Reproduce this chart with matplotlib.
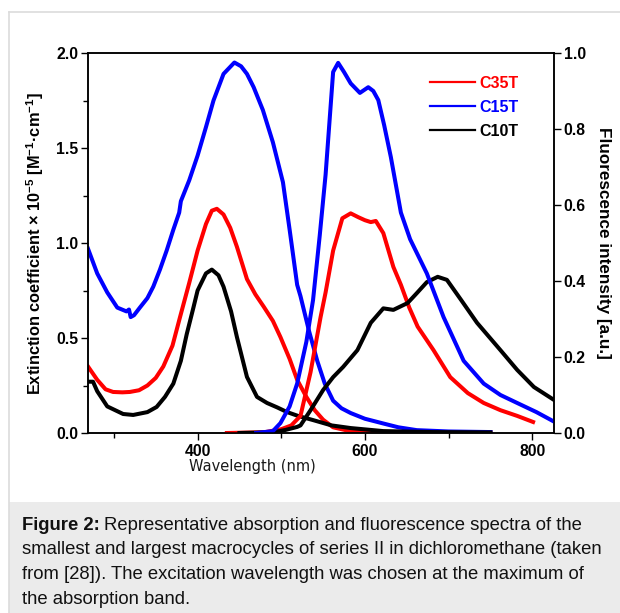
import matplotlib
matplotlib.use("Agg")
import matplotlib.pyplot as plt
from matplotlib.patches import Rectangle
from matplotlib.lines import Line2D
from matplotlib.ticker import MultipleLocator

plt.rcParams['font.family'] = ['Liberation Sans', 'DejaVu Sans']
plt.rcParams['mathtext.fontset'] = 'custom'
plt.rcParams['mathtext.rm'] = 'Liberation Sans:bold'
plt.rcParams['mathtext.it'] = 'Liberation Sans:bold'
plt.rcParams['mathtext.bf'] = 'Liberation Sans:bold'
plt.rcParams['mathtext.default'] = 'rm'

# ---------------- data ----------------
series_names = ["C35T", "C15T", "C10T"]
series_colors = ["#ff0000", "#0000ff", "#000000"]

# absorption (left axis, extinction coefficient x 1e-5)
abs_c35t_wl = [269, 280, 290, 299, 310, 319, 330, 340, 350, 359, 370, 379, 390, 400, 410,
               417, 423, 431, 439, 447, 459, 469, 479, 490, 499, 510, 519, 530, 540, 550,
               562, 580, 620, 680, 750]
abs_c35t = [0.35, 0.28, 0.23, 0.216, 0.214, 0.216, 0.225, 0.25, 0.29, 0.35, 0.46, 0.61,
            0.79, 0.96, 1.10, 1.17, 1.18, 1.15, 1.08, 0.98, 0.81, 0.73, 0.665, 0.59, 0.505,
            0.39, 0.28, 0.19, 0.12, 0.07, 0.03, 0.012, 0.005, 0.003, 0.003]

abs_c15t_wl = [269, 280, 292, 304, 315, 318, 320, 324, 331, 340, 347, 355, 363, 371, 378,
               380, 390, 400, 410, 419, 431, 444, 452, 459, 467, 478, 490, 502, 510, 519,
               523, 533, 543, 552, 562, 572, 583, 600, 622, 640, 662, 700, 750]
abs_c15t = [0.97, 0.84, 0.74, 0.66, 0.64, 0.65, 0.61, 0.62, 0.66, 0.71, 0.77, 0.86, 0.96,
            1.07, 1.16, 1.22, 1.33, 1.46, 1.61, 1.75, 1.89, 1.95, 1.93, 1.89, 1.82, 1.70,
            1.53, 1.32, 1.07, 0.78, 0.72, 0.54, 0.38, 0.26, 0.17, 0.13, 0.105, 0.075, 0.05,
            0.03, 0.015, 0.008, 0.005]

abs_c10t_wl = [269, 275, 280, 292, 311, 323, 340, 351, 361, 371, 380, 387, 395, 400, 410,
               417, 425, 431, 440, 447, 459, 471, 483, 495, 507, 520, 538, 560, 583, 622,
               680, 750]
abs_c10t = [0.27, 0.27, 0.22, 0.14, 0.10, 0.095, 0.11, 0.137, 0.19, 0.26, 0.38, 0.52, 0.66,
            0.75, 0.84, 0.86, 0.83, 0.77, 0.64, 0.505, 0.295, 0.19, 0.158, 0.135, 0.11,
            0.09, 0.068, 0.04, 0.026, 0.01, 0.005, 0.003]

# fluorescence (right axis, a.u.)
fl_c35t_wl = [435, 480, 500, 512, 523, 535, 547, 553, 562, 573, 583, 592, 600, 607, 613,
              622, 634, 643, 653, 663, 682, 702, 723, 742, 762, 782, 801]
fl_c35t = [0.0, 0.002, 0.01, 0.02, 0.045, 0.16, 0.305, 0.37, 0.48, 0.565, 0.578, 0.568,
           0.56, 0.555, 0.558, 0.526, 0.437, 0.39, 0.33, 0.28, 0.218, 0.147, 0.105, 0.079,
           0.06, 0.045, 0.029]

fl_c15t_wl = [470, 490, 499, 510, 519, 530, 538, 546, 553, 562, 568, 575, 583, 594, 604,
              610, 616, 623, 631, 643, 654, 674, 694, 718, 742, 762, 782, 805, 826]
fl_c15t = [0.0, 0.005, 0.026, 0.07, 0.13, 0.24, 0.35, 0.52, 0.68, 0.95, 0.974, 0.95, 0.92,
           0.895, 0.91, 0.9, 0.876, 0.81, 0.726, 0.58, 0.51, 0.42, 0.305, 0.19, 0.13, 0.10,
           0.079, 0.055, 0.03]

fl_c10t_wl = [450, 490, 505, 519, 523, 535, 550, 562, 574, 591, 607, 622, 634, 651, 662,
              674, 687, 698, 715, 734, 762, 782, 802, 826]
fl_c10t = [0.0, 0.002, 0.008, 0.016, 0.02, 0.06, 0.113, 0.147, 0.174, 0.218, 0.29, 0.328,
           0.324, 0.342, 0.368, 0.397, 0.411, 0.403, 0.35, 0.29, 0.218, 0.166, 0.121, 0.087]

left_ticks = [0.0, 0.5, 1.0, 1.5, 2.0]
right_ticks = [0.0, 0.2, 0.4, 0.6, 0.8, 1.0]
x_ticks = [400, 600, 800]

caption_bold = "Figure 2:"
caption_line1 = "Representative absorption and fluorescence spectra of the"
caption_rest = ["smallest and largest macrocycles of series II in dichloromethane (taken",
                "from [28]). The excitation wavelength was chosen at the maximum of",
                "the absorption band."]

# ---------------- figure ----------------
W, H = 620, 613
fig = plt.figure(figsize=(W / 100, H / 100), dpi=100)
fig.patch.set_facecolor("white")

# frame + caption box
fig.add_artist(Rectangle((9 / W, 0), 1.0, (H - 502) / H, transform=fig.transFigure,
                         facecolor="#ebebeb", edgecolor="none", zorder=0))
fig.add_artist(Line2D([9 / W, 1.0], [1 - 12 / H, 1 - 12 / H], transform=fig.transFigure,
                      color="#dcdcdc", lw=1.2))
fig.add_artist(Line2D([9 / W, 9 / W], [0, 1 - 12 / H], transform=fig.transFigure,
                      color="#dcdcdc", lw=1.2))

ax = fig.add_axes([88 / W, (H - 433) / H, (554 - 88) / W, (433 - 53) / H])
ax2 = ax.twinx()

lw = 2.9
abs_sets = [(abs_c35t_wl, abs_c35t), (abs_c15t_wl, abs_c15t), (abs_c10t_wl, abs_c10t)]
fl_sets = [(fl_c35t_wl, fl_c35t), (fl_c10t_wl, fl_c10t), (fl_c15t_wl, fl_c15t)]
fl_colors = [series_colors[0], series_colors[2], series_colors[1]]

for (x, y), c in zip(abs_sets, series_colors):
    ax.plot(x, y, color=c, lw=lw, solid_joinstyle="round")
for (x, y), c in zip(fl_sets, fl_colors):
    ax2.plot(x, y, color=c, lw=lw, solid_joinstyle="round")

ax.set_xlim(269, 826)
ax.set_ylim(0, 2.0)
ax2.set_ylim(0, 1.0)

ax.set_xticks(x_ticks)
ax.xaxis.set_minor_locator(MultipleLocator(100))
ax.set_yticks(left_ticks)
ax.yaxis.set_minor_locator(MultipleLocator(0.25))
ax2.set_yticks(right_ticks)

tick_size = 11.3
for a in (ax, ax2):
    for s in a.spines.values():
        s.set_linewidth(1.1)
ax.tick_params(axis="both", which="major", direction="out", length=5, width=1.0,
               labelsize=tick_size, pad=2)
ax.tick_params(axis="both", which="minor", direction="out", length=3.5, width=1.0)
ax.tick_params(axis="x", pad=3)
ax2.tick_params(axis="y", which="major", direction="out", length=5, width=1.0,
                labelsize=tick_size, pad=2)
ax.set_yticklabels(["%.1f" % v for v in left_ticks], fontweight="bold")
ax2.set_yticklabels(["%.1f" % v for v in right_ticks], fontweight="bold")
ax.set_xticklabels([str(v) for v in x_ticks], fontweight="bold")

# legend
handles = [Line2D([], [], color=c, lw=1.6) for c in series_colors]
leg = ax2.legend(handles, series_names, loc="upper left",
                 bbox_to_anchor=(430 / W, 1 - 76 / H), bbox_transform=fig.transFigure,
                 frameon=False, handlelength=2.8, handletextpad=0.3, labelspacing=0.55,
                 borderpad=0, borderaxespad=0,
                 prop={"weight": "bold", "size": 11.5}, labelcolor=series_colors)

# axis labels
fig.text(35 / W, 1 - 244 / H,
         r"Extinction coefficient × 10$^{-5}$ [M$^{-1}$·cm$^{-1}$]",
         rotation=90, ha="center", va="center", fontsize=11.8, fontweight="bold")
fig.text(604 / W, 1 - 243 / H, "Fluorescence intensity [a.u.]", rotation=270,
         ha="center", va="center", fontsize=12.3, fontweight="bold")
fig.text(252 / W, 1 - 467 / H, "Wavelength (nm)", ha="center", va="center",
         fontsize=10.5, family="DejaVu Sans", color="#1a1a1a")

# caption
cap_size = 13.3
t1 = fig.text(22 / W, 1 - 525 / H, caption_bold, ha="left", va="center",
              fontsize=cap_size, fontweight="bold", color="#111111")
fig.canvas.draw()
bb = t1.get_window_extent()
fig.text(bb.x1 / W + 4 / W, 1 - 525 / H, caption_line1, ha="left", va="center",
         fontsize=cap_size, color="#111111")
for i, line in enumerate(caption_rest):
    fig.text(22 / W, 1 - (550 + 24.5 * i) / H, line, ha="left", va="center",
             fontsize=cap_size, color="#111111")

fig.savefig("out.png", dpi=100)
